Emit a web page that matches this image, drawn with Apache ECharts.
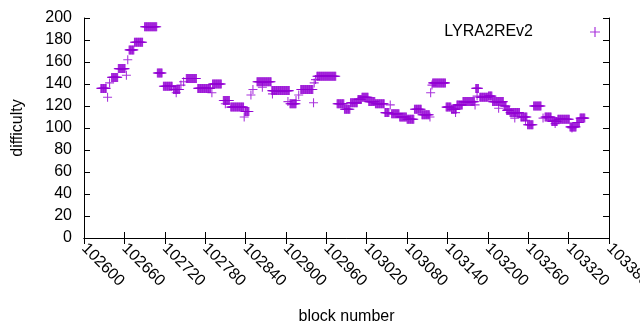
<!DOCTYPE html>
<html>
<head>
<meta charset="utf-8">
<script src="https://cdn.jsdelivr.net/npm/echarts@6/dist/echarts.min.js"></script>
<style>
  html, body { margin: 0; background: #fff; }
  #chart { width: 640px; height: 330px; }
</style>
</head>
<body>
<div id="chart"></div>
<script>
// difficulty stays flat between retargets, so the long runs are kept as start/end/value
var runStart = [102625, 102641, 102651, 102667, 102675, 102690, 102709, 102718, 102733, 102752,
  102769, 102791, 102807, 102818, 102839, 102857, 102879, 102906, 102922, 102946,
  102976, 102987, 102996, 103007, 103013, 103023, 103033, 103047, 103057, 103069,
  103080, 103091, 103102, 103118, 103138, 103146, 103154, 103163, 103182, 103188,
  103201, 103207, 103224, 103228, 103233, 103249, 103259, 103268, 103285, 103295,
  103304, 103322, 103332, 103337];
var runEnd = [102633, 102650, 102661, 102674, 102687, 102708, 102716, 102731, 102742, 102767,
  102788, 102804, 102816, 102837, 102845, 102878, 102905, 102915, 102940, 102974,
  102986, 102995, 103006, 103012, 103022, 103032, 103046, 103053, 103068, 103079,
  103090, 103101, 103113, 103137, 103145, 103153, 103162, 103180, 103186, 103200,
  103206, 103223, 103227, 103232, 103247, 103258, 103267, 103279, 103294, 103303,
  103321, 103331, 103336, 103344];
var runValue = [136, 146, 154, 171, 178, 192, 150, 138, 135, 145,
  136, 140, 125, 119, 115, 142, 134, 122, 135, 147,
  122, 117, 123, 126, 128, 124, 122, 114, 113, 110,
  108, 117, 112, 141, 119, 117, 121, 124, 136, 128,
  129, 124, 120, 116, 114, 110, 103, 120, 110, 106,
  108, 101, 105, 109];

// odd blocks that sit off the runs
var singleBlock = [102635, 102638, 102663, 102665, 102737, 102744, 102748, 102790, 102810, 102838,
  102848, 102851, 102865, 102880, 102903, 102915, 102919, 102941, 102942, 102944,
  103055, 103114, 103115, 103117, 103152, 103181, 103184, 103216, 103240, 103256,
  103282, 103300, 103325];
var singleValue = [128, 141, 148, 162, 132, 139, 142, 132, 122, 110,
  130, 135, 137, 131, 124, 125, 130, 123, 141, 144,
  121, 110, 132, 139, 114, 121, 129, 118, 109, 107,
  109, 104, 100];

var seriesName = 'LYRA2REv2';
var xMin = 102600, xMax = 103380, xStep = 60;
var yMin = 0, yMax = 200, yStep = 20;

var points = [];
for (var i = 0; i < runStart.length; i++) {
  for (var b = runStart[i]; b <= runEnd[i]; b++) {
    points.push([b, runValue[i]]);
  }
}
for (var j = 0; j < singleBlock.length; j++) {
  points.push([singleBlock[j], singleValue[j]]);
}

var plus = 'path://M0,4.4H10V5.6H0Z M4.4,0H5.6V10H4.4Z';
// same plus, pushed to the right end of a wide box so the key sample sits apart from its text
var keyPlus = 'path://M0,4.4H0.01V5.6H0Z M52,4.4H62V5.6H52Z M56.4,0H57.6V10H56.4Z';

var font = 'Liberation Sans';
var chart = echarts.init(document.getElementById('chart'));

var option = {
  animation: false,
  backgroundColor: '#fff',
  textStyle: { fontFamily: font },
  grid: { left: 84, right: 31, top: 18, bottom: 92, containLabel: false, outerBoundsMode: 'none' },
  legend: {
    right: 40,
    top: 24,
    padding: 0,
    align: 'right',
    itemWidth: 62,
    itemHeight: 10,
    selectedMode: false,
    textStyle: { fontFamily: font, fontSize: 16, color: '#000', lineHeight: 16 },
    data: [{ name: seriesName, icon: keyPlus }]
  },
  xAxis: [{
    type: 'value',
    min: xMin, max: xMax, interval: xStep,
    name: 'block number',
    nameLocation: 'middle',
    nameGap: 71,
    nameTextStyle: { fontFamily: font, fontSize: 16, color: '#000' },
    axisLine: { lineStyle: { color: '#000', width: 1 } },
    axisTick: { inside: true, length: 6, lineStyle: { color: '#000' } },
    axisLabel: {
      rotate: -45, fontFamily: font, fontSize: 16, color: '#000', margin: 8,
      formatter: function (v) { return String(v); }
    },
    splitLine: { show: false }
  }, {
    type: 'value',
    position: 'top',
    min: xMin, max: xMax, interval: xStep,
    axisLine: { lineStyle: { color: '#000', width: 1 } },
    axisTick: { inside: true, length: 6, lineStyle: { color: '#000' } },
    axisLabel: { show: false },
    splitLine: { show: false }
  }],
  yAxis: [{
    type: 'value',
    min: yMin, max: yMax, interval: yStep,
    name: 'difficulty',
    nameLocation: 'middle',
    nameRotate: 90,
    nameGap: 58,
    nameTextStyle: { fontFamily: font, fontSize: 16, color: '#000' },
    axisLine: { show: true, lineStyle: { color: '#000', width: 1 } },
    axisTick: { show: true, inside: true, length: 6, lineStyle: { color: '#000' } },
    axisLabel: { fontFamily: font, fontSize: 16, color: '#000', margin: 12 },
    splitLine: { show: false }
  }, {
    type: 'value',
    position: 'right',
    min: yMin, max: yMax, interval: yStep,
    axisLine: { show: true, lineStyle: { color: '#000', width: 1 } },
    axisTick: { show: true, inside: true, length: 6, lineStyle: { color: '#000' } },
    axisLabel: { show: false },
    splitLine: { show: false }
  }],
  series: [{
    name: seriesName,
    type: 'scatter',
    symbol: plus,
    symbolSize: 9,
    itemStyle: { color: '#9400d3' },
    data: points
  }]
};

chart.setOption(option);
</script>
</body>
</html>
